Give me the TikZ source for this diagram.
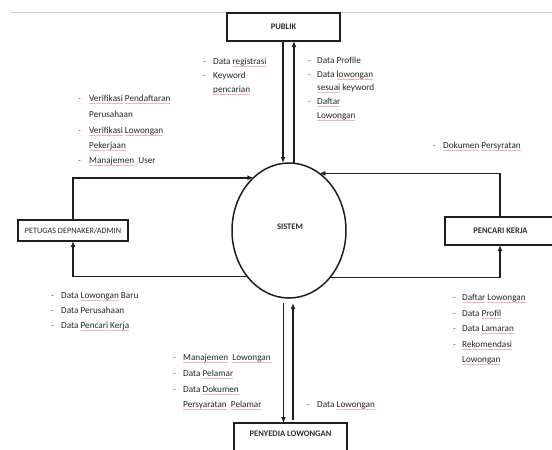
\documentclass[tikz,border=0pt]{standalone}
\usepackage{fontspec}
\setmainfont{Carlito}
\usetikzlibrary{arrows.meta,shapes.geometric}
\newcommand\sq[1]{\setbox0\hbox{#1}\rlap{\textcolor{red!30}{\rule[-2.3pt]{\wd0}{0.7pt}}}\box0\relax}
\begin{document}
\begin{tikzpicture}[x=1pt,y=-1pt,
  box/.style={draw=black!88,line width=1.5pt,inner sep=0pt,outer sep=0pt},
  lbl/.style={font=\fontsize{8.5}{10}\selectfont\bfseries,text=black!82,inner sep=0pt},
  flow/.style={draw=black!88,line width=1.5pt},
  arr/.style={-{Latex[length=6pt,width=5pt]}},
  item/.style={anchor=base west,inner sep=0pt,font=\fontsize{9.2}{11}\selectfont,text=black!85},
  bul/.style={anchor=base west,inner sep=0pt,font=\fontsize{9.2}{11}\selectfont,text=black!60}]
\useasboundingbox (0,0) rectangle (552,450);
\clip (0,0) rectangle (552,450);
\fill[white] (0,0) rectangle (552,450);
\draw[black!18,line width=1pt] (10,12) -- (552,12);

% boxes
\node[box,lbl,minimum width=113pt,minimum height=28pt] (publik) at (283.5,27) {PUBLIK};
\node[box,minimum width=110pt,minimum height=21pt,font=\fontsize{8.2}{10}\selectfont,text=black!85] (petugas) at (73,230.5) {PETUGAS DEPNAKER/ADMIN};
\node[box,lbl,minimum width=111pt,minimum height=28pt] (pencari) at (500.5,231) {PENCARI KERJA};
\node[box,minimum width=113pt,minimum height=40pt] (penyedia) at (290.5,443) {};
\node[lbl] (penyedialbl) at (290.5,434) {PENYEDIA LOWONGAN};
\node[draw=black!88,line width=1.5pt,ellipse,minimum width=114pt,minimum height=135pt,inner sep=0pt,outer sep=0pt] (sys) at (289,230.5) {};
\node[lbl] (syslbl) at (290,227) {SISTEM};

% connectors
\coordinate (pl) at ([xshift=-0.5pt]publik.south);
\coordinate (pr) at ([xshift=10.5pt]publik.south);
\draw[flow,arr] (pl) -- (pl |- sys.north);
\draw[flow,arr] (pr |- sys.north) -- (pr);
\draw[flow,arr] (petugas.north) |- (sys.124.7);
\draw[flow,arr] (sys.228.4) -| (petugas.south);
\coordinate (kn) at ([xshift=-0.5pt]pencari.north);
\coordinate (ks) at ([xshift=-0.5pt]pencari.south);
\draw[flow,arr] (kn) |- (sys.62.5);
\draw[flow,arr] (sys.311.6) -| (ks);
\coordinate (sb) at ([yshift=-5pt]sys.south);
\coordinate (bl) at ([xshift=-7pt]penyedia.north);
\coordinate (br) at ([xshift=2.5pt]penyedia.north);
\coordinate (brt) at ([yshift=3pt]br);
\draw[flow,arr] (bl |- sb) -- (bl);
\draw[flow,arr] (brt) -- (br |- sb);

% PUBLIK in
\node[bul] (a1) at (203,64) {-}; \node[item] (at1) at (213,64) {Data \sq{registrasi}};
\node[bul] (a2) at (203,78) {-}; \node[item] (at2) at (213,78) {Keyword};
\node[item] (at3) at (213,92) {\sq{pencarian}};
% PUBLIK out
\node[bul] (c1) at (308,63.5) {-}; \node[item] (ct1) at (317,63.5) {Data Profile};
\node[bul] (c2) at (308,77) {-}; \node[item] (ct2) at (317,77) {Data \sq{lowongan}};
\node[item] (ct3) at (317,90.5) {\sq{sesuai} keyword};
\node[bul] (c3) at (308,104) {-}; \node[item] (ct4) at (317,104) {\sq{Daftar}};
\node[item] (ct5) at (317,118) {\sq{Lowongan}};
% admin in
\node[bul] (d1) at (78,101.5) {-}; \node[item] (dt1) at (89,101.5) {\sq{Verifikasi} \sq{Pendaftaran}};
\node[item] (dt2) at (89,117.5) {Perusahaan};
\node[bul] (d2) at (78,133.5) {-}; \node[item] (dt3) at (89,133.5) {\sq{Verifikasi} \sq{Lowongan}};
\node[item] (dt4) at (89,148.5) {\sq{Pekerjaan}};
\node[bul] (d3) at (78,163.5) {-}; \node[item] (dt5) at (89,163.5) {\sq{Manajemen}\ \ User};
% pencari in
\node[bul] (e1) at (433,148.5) {-}; \node[item] (et1) at (443,148.5) {\sq{Dokumen} \sq{Persyratan}};
% admin out
\node[bul] (f1) at (51,298.5) {-}; \node[item] (ft1) at (61,298.5) {Data \sq{Lowongan} Baru};
\node[bul] (f2) at (51,313.5) {-}; \node[item] (ft2) at (61,313.5) {Data Perusahaan};
\node[bul] (f3) at (51,328.5) {-}; \node[item] (ft3) at (61,328.5) {Data \sq{Pencari} \sq{Kerja}};
% pencari out
\node[bul] (g1) at (453,300.5) {-}; \node[item] (gt1) at (462,300.5) {\sq{Daftar} \sq{Lowongan}};
\node[bul] (g2) at (453,316) {-}; \node[item] (gt2) at (462,316) {Data \sq{Profil}};
\node[bul] (g3) at (453,331.5) {-}; \node[item] (gt3) at (462,331.5) {Data \sq{Lamaran}};
\node[bul] (g4) at (453,347) {-}; \node[item] (gt4) at (462,347) {\sq{Rekomendasi}};
\node[item] (gt5) at (462,362.5) {\sq{Lowongan}};
% penyedia in
\node[bul] (h1) at (173,360.5) {-}; \node[item] (ht1) at (183,360.5) {\sq{Manajemen}\ \ \sq{Lowongan}};
\node[bul] (h2) at (173,376.5) {-}; \node[item] (ht2) at (183,376.5) {Data \sq{Pelamar}};
\node[bul] (h3) at (173,392) {-}; \node[item] (ht3) at (183,392) {Data \sq{Dokumen}};
\node[item] (ht4) at (183,407.5) {\sq{Persyaratan}\ \ \sq{Pelamar}};
% penyedia out
\node[bul] (i1) at (307,407.5) {-}; \node[item] (it1) at (317,407.5) {Data \sq{Lowongan}};
\end{tikzpicture}
\end{document}
